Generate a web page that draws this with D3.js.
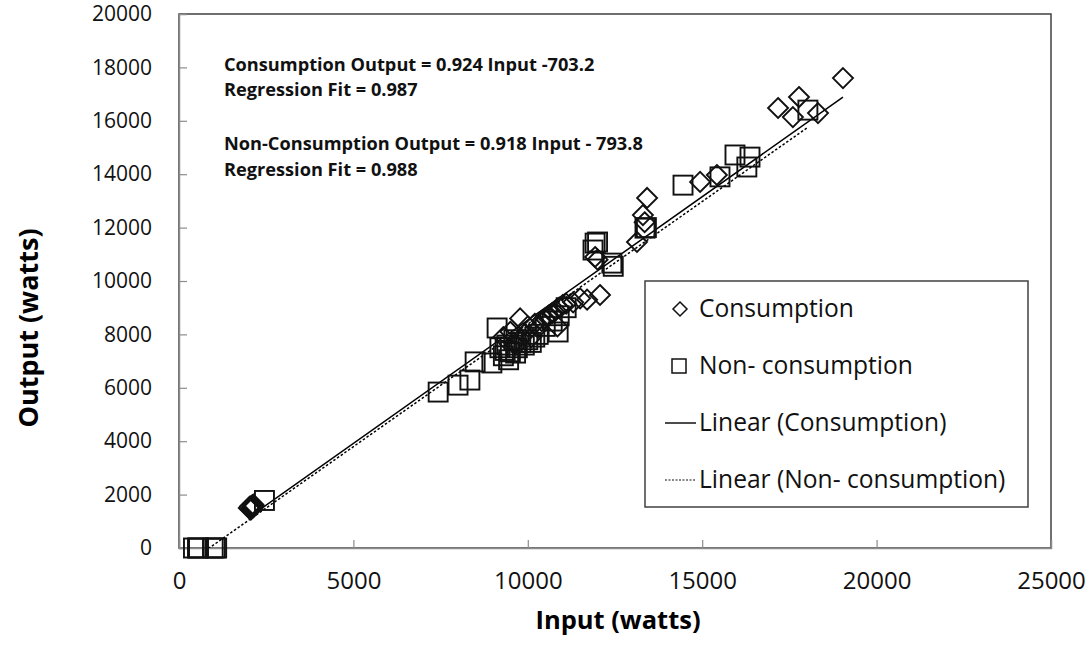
<!DOCTYPE html>
<html>
<head>
<meta charset="utf-8">
<script src="https://cdn.jsdelivr.net/npm/d3@7"></script>
<style>
  body { margin: 0; background: #fff; }
  svg { font-family: "Open Sans", sans-serif; }
</style>
</head>
<body>
<svg id="chart" width="1089" height="646"></svg>
<script>
// data: [input, output] in watts
const consumption = [
    [2000, 1500], [2040, 1560], [2070, 1470], [2100, 1600], [2120, 1520],
    [2150, 1570], [2060, 1440], [2130, 1630],
    [9300, 7900], [9500, 8100], [9600, 7700], [9780, 8600], [9900, 8000],
    [10000, 8300], [10100, 7900], [10200, 8400], [10300, 8250], [10400, 8500],
    [10500, 8600], [10600, 8700], [10700, 8800], [10800, 8900], [10850, 8300],
    [10900, 9000], [11000, 9100], [11100, 9150], [11300, 9200], [11500, 9350],
    [11700, 9300], [12070, 9475],
    [11930, 10900], [12000, 10800], [13130, 11460], [13300, 12470], [13350, 12200],
    [13420, 13110], [14940, 13710], [15420, 13970], [17175, 16480], [17600, 16140],
    [17775, 16890], [18320, 16290], [19036, 17600]
];
const nonConsumption = [
    [415, 0], [530, 0], [560, 0], [980, 0], [1040, 0], [1080, 0], [2450, 1780],
    [7430, 5840], [8000, 6100], [8340, 6290], [8490, 6970], [8970, 6930], [9120, 8240],
    [9200, 7500], [9300, 7200], [9350, 7400], [9400, 7600], [9450, 7050], [9500, 7350],
    [9600, 7800], [9650, 7300], [9700, 7500], [9800, 7700], [9900, 7600], [10000, 7800],
    [10100, 7700], [10200, 7900], [10300, 8000], [10500, 8300], [10700, 8500],
    [10870, 8090], [10900, 8700], [11100, 9000],
    [11870, 11160], [11930, 11420], [12000, 11460], [12410, 10670], [12450, 10550],
    [13360, 11980], [13400, 12000], [14450, 13590], [15510, 13900], [15940, 14720],
    [16280, 14270], [16370, 14640], [18030, 16400]
];
// trend line [slope, intercept]
const consumptionFit = [0.924, -703.2];
const nonConsumptionFit = [0.918, -793.8];

const xTicks = [0, 5000, 10000, 15000, 20000, 25000];
const yTicks = [0, 2000, 4000, 6000, 8000, 10000, 12000, 14000, 16000, 18000, 20000];

const notes = [
    "Consumption Output = 0.924 Input -703.2",
    "Regression Fit = 0.987",
    "Non-Consumption Output = 0.918 Input - 793.8",
    "Regression Fit = 0.988"
];
const legendLabels = ["Consumption", "Non- consumption", "Linear (Consumption)", "Linear (Non- consumption)"];

const margin = {top: 14, right: 38, bottom: 98, left: 179};
const width = 1089 - margin.left - margin.right;
const height = 646 - margin.top - margin.bottom;

const svg = d3.select("#chart");
const g = svg.append("g")
    .attr("transform", "translate(" + margin.left + "," + margin.top + ")");

const x = d3.scaleLinear().domain([0, 25000]).range([0, width]);
const y = d3.scaleLinear().domain([0, 20000]).range([height, 0]);

g.append("clipPath").attr("id", "clip")
    .append("rect").attr("width", width).attr("height", height);

// plot area border
g.append("rect")
    .attr("width", width).attr("height", height)
    .attr("fill", "none").attr("stroke", "#404040").attr("stroke-width", 1.5);

const xAxis = g.append("g")
    .attr("transform", "translate(0," + height + ")")
    .call(d3.axisBottom(x).tickValues(xTicks).tickSize(-8).tickPadding(24).tickFormat(d3.format("d")));
const yAxis = g.append("g")
    .call(d3.axisLeft(y).tickValues(yTicks).tickSize(-8).tickPadding(27).tickFormat(d3.format("d")));

[xAxis, yAxis].forEach(a => {
    a.select(".domain").attr("stroke", "#8c8c8c").attr("stroke-width", 1.5);
    a.selectAll(".tick line").attr("stroke", "#8c8c8c").attr("stroke-width", 1.2);
    a.selectAll(".tick text").attr("fill", "#111")
        .style("font-family", "'Open Sans', sans-serif");
});
xAxis.selectAll(".tick text").style("font-size", "24px");
yAxis.selectAll(".tick text").style("font-size", "21px");
xAxis.selectAll(".tick")
    .filter(d => d === 0 || d === 25000)
    .select("line").remove();
yAxis.selectAll(".tick")
    .filter(d => d === 0 || d === 20000)
    .select("line").remove();

// trend lines
function fitLine(data, fit) {
    const xs = d3.extent(data, d => d[0]);
    return xs.map(v => [v, fit[0] * v + fit[1]]);
}
const line = d3.line().x(d => x(d[0])).y(d => y(d[1]));

const trends = g.append("g").attr("clip-path", "url(#clip)");
trends.append("path")
    .datum(fitLine(nonConsumption, nonConsumptionFit))
    .attr("d", line)
    .attr("fill", "none").attr("stroke", "#000").attr("stroke-width", 1.5)
    .attr("stroke-dasharray", "2.5,2");
trends.append("path")
    .datum(fitLine(consumption, consumptionFit))
    .attr("d", line)
    .attr("fill", "none").attr("stroke", "#000").attr("stroke-width", 1.5);

// markers
const sq = 19, dia = 10;
g.append("g").selectAll("rect")
    .data(nonConsumption)
    .enter()
    .append("rect")
    .attr("x", d => x(d[0]) - sq / 2)
    .attr("y", d => y(d[1]) - sq / 2)
    .attr("width", sq).attr("height", sq)
    .attr("fill", "none").attr("stroke", "#111").attr("stroke-width", 1.9);

g.append("g").selectAll("path")
    .data(consumption)
    .enter()
    .append("path")
    .attr("d", d => {
        const cx = x(d[0]), cy = y(d[1]);
        return "M" + cx + "," + (cy - dia) + "L" + (cx + dia) + "," + cy +
            "L" + cx + "," + (cy + dia) + "L" + (cx - dia) + "," + cy + "Z";
    })
    .attr("fill", "none").attr("stroke", "#111").attr("stroke-width", 1.9);

// equation notes
g.append("g").selectAll("text")
    .data(notes)
    .enter()
    .append("text")
    .attr("x", 224 - margin.left)
    .attr("y", (d, i) => [71, 96, 150, 176][i] - margin.top)
    .style("font-size", "18.2px").style("font-weight", "bold")
    .attr("fill", "#111")
    .text(d => d);

// axis titles
svg.append("text")
    .attr("x", margin.left + width / 2 + 3).attr("y", 629)
    .attr("text-anchor", "middle")
    .style("font-size", "25.5px").style("font-weight", "bold")
    .text("Input (watts)");
svg.append("text")
    .attr("transform", "translate(38,328)rotate(-90)")
    .attr("text-anchor", "middle")
    .style("font-size", "27px").style("font-weight", "bold")
    .text("Output (watts)");

// legend
const legend = svg.append("g").attr("transform", "translate(645,281)");
legend.append("rect")
    .attr("width", 383).attr("height", 226)
    .attr("fill", "#fff").attr("stroke", "#404040").attr("stroke-width", 1.5);

const rows = legend.selectAll("g.row")
    .data(legendLabels)
    .enter()
    .append("g")
    .attr("class", "row")
    .attr("transform", (d, i) => "translate(0," + (28 + i * 57) + ")");

rows.append("text")
    .attr("x", 54).attr("y", 8)
    .style("font-size", "24.6px")
    .attr("fill", "#111")
    .text(d => d);

rows.filter((d, i) => i === 0).append("path")
    .attr("d", "M35,-7L42,0L35,7L28,0Z")
    .attr("fill", "none").attr("stroke", "#111").attr("stroke-width", 1.5);
rows.filter((d, i) => i === 1).append("rect")
    .attr("x", 27).attr("y", -7).attr("width", 14).attr("height", 14)
    .attr("fill", "none").attr("stroke", "#111").attr("stroke-width", 1.5);
rows.filter((d, i) => i === 2).append("line")
    .attr("x1", 20).attr("x2", 51)
    .attr("stroke", "#111").attr("stroke-width", 1.5);
rows.filter((d, i) => i === 3).append("line")
    .attr("x1", 20).attr("x2", 51)
    .attr("stroke", "#111").attr("stroke-width", 1.2).attr("stroke-dasharray", "2,1.5");
</script>
</body>
</html>
